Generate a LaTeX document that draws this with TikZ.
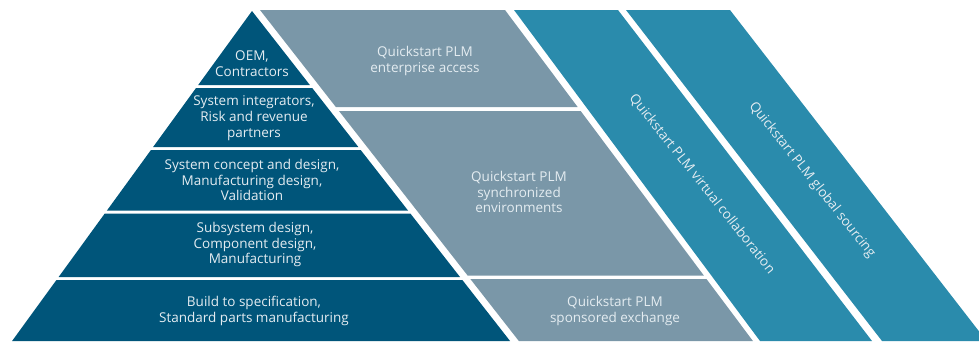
\documentclass[tikz,border=0pt]{standalone}
\usepackage{fontspec}
\setmainfont{Open Sans}
\definecolor{petrol}{RGB}{0,85,122}
\definecolor{slateband}{RGB}{122,151,168}
\definecolor{tealband}{RGB}{42,139,172}
\definecolor{labeltext}{RGB}{228,236,241}
\newcommand{\pyrband}[2]{\fill[petrol] ({252-0.727*(#1-11)},#1) -- ({252+0.782*(#1-11)},#1) -- ({252+0.782*(#2-11)},#2) -- ({252-0.727*(#2-11)},#2) -- cycle;}
\newcommand{\grayband}[2]{\fill[slateband] ({260+0.782*(#1-10)},#1) -- ({505+0.749*(#1-10)},#1) -- ({505+0.749*(#2-10)},#2) -- ({260+0.782*(#2-10)},#2) -- cycle;}
\begin{document}
\begin{tikzpicture}[x=1pt,y=-1pt,
  lbl/.style={text=labeltext, align=center, font=\fontsize{13.5}{15.7}\selectfont, inner sep=0pt}]
\useasboundingbox (0,0) rectangle (979,341);
\clip (0,0) rectangle (979,341);
% pyramid bands
\pyrband{11}{85}
\pyrband{88}{147}
\pyrband{150}{210.5}
\pyrband{213.5}{277}
\pyrband{280}{341}
% gray parallelograms
\grayband{10}{107}
\grayband{111}{275.5}
\grayband{279}{341}
% teal stripes
\fill[tealband] (514,10) -- (618,10) -- (872,341) -- (760,341) -- cycle;
\fill[tealband] (626,10) -- (730,10) -- (986.5,341) -- (882,341) -- cycle;
% labels
\node[lbl] (oem) at (252,63.5) {OEM,\\Contractors};
\node[lbl] (sysint) at (254,118) {System integrators,\\Risk and revenue\\partners};
\node[lbl] (syscon) at (252,180) {System concept and design,\\Manufacturing design,\\Validation};
\node[lbl] (subsys) at (255,244.5) {Subsystem design,\\Component design,\\Manufacturing};
\node[lbl] (build) at (254,311) {Build to specification,\\Standard parts manufacturing};
\node[lbl] (ent) at (425,61) {Quickstart PLM\\enterprise access};
\node[lbl] (sync) at (519,192) {Quickstart PLM\\synchronized\\environments};
\node[lbl] (spons) at (615,311) {Quickstart PLM\\sponsored exchange};
\node[lbl, rotate=-51.5] (virt) at (702,184) {Quickstart PLM virtual collaboration};
\node[lbl, rotate=-51.5] (glob) at (812,180) {Quickstart PLM global sourcing};
\end{tikzpicture}
\end{document}
